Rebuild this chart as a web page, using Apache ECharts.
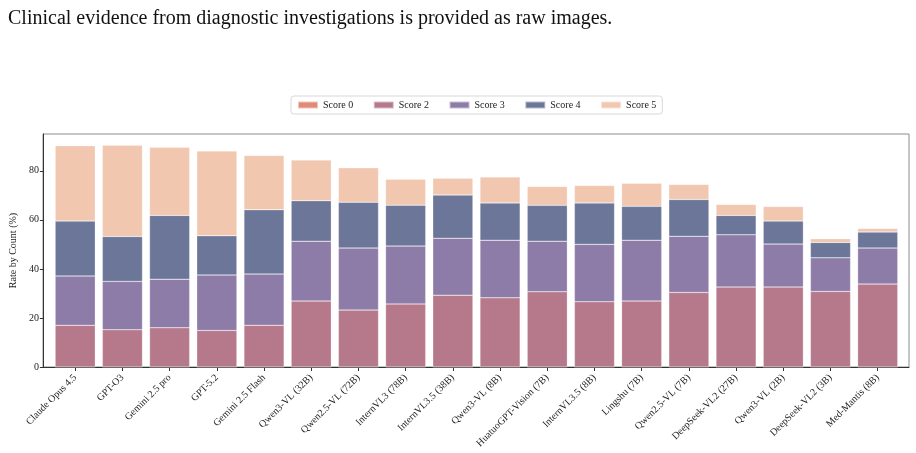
<!DOCTYPE html>
<html>
<head>
<meta charset="utf-8">
<script src="https://cdn.jsdelivr.net/npm/echarts@6/dist/echarts.min.js"></script>
<style>
  html, body { margin: 0; padding: 0; background: #fff; }
  #chart { width: 916px; height: 453px; }
</style>
</head>
<body>
<div id="chart"></div>
<script>
  // models along the x axis
  const models = [
    'Claude Opus 4.5', 'GPT-O3', 'Gemini 2.5 pro', 'GPT-5.2', 'Gemini 2.5 Flash',
    'Qwen3-VL (32B)', 'Qwen2.5-VL (72B)', 'InternVL3 (78B)', 'InternVL3.5 (38B)',
    'Qwen3-VL (8B)', 'HuatuoGPT-Vision (7B)', 'InternVL3.5 (8B)', 'Lingshu (7B)',
    'Qwen2.5-VL (7B)', 'DeepSeek-VL2 (27B)', 'Qwen3-VL (2B)', 'DeepSeek-VL2 (3B)',
    'Med-Mantis (8B)'
  ]
  // rate by count (%) per score, stacked
  const score0 = [0, 0, 0, 0, 0, 0, 0, 0, 0, 0, 0, 0, 0, 0, 0, 0, 0, 0]
  const score2 = [17.0, 15.2, 16.0, 14.9, 17.0, 26.9, 23.2, 25.7, 29.3, 28.2, 30.7, 26.6, 26.9, 30.4, 32.6, 32.6, 30.8, 33.8]
  const score3 = [20.1, 19.7, 19.8, 22.6, 20.9, 24.4, 25.3, 23.6, 23.2, 23.5, 20.6, 23.4, 24.8, 22.9, 21.3, 17.5, 13.7, 14.7]
  const score4 = [22.4, 18.3, 26.0, 16.0, 26.2, 16.5, 18.7, 16.7, 17.6, 15.2, 14.6, 16.9, 13.8, 15.0, 7.9, 9.4, 6.3, 6.5]
  const score5 = [30.7, 37.2, 27.8, 34.6, 22.1, 16.6, 14.0, 10.6, 6.9, 10.6, 7.7, 7.1, 9.4, 6.1, 4.5, 5.9, 1.5, 1.5]
  const scoreNames = ['Score 0', 'Score 2', 'Score 3', 'Score 4', 'Score 5']
  const colors = ['#e08a77', '#b6798b', '#8e7ca8', '#6c7699', '#f1c7b0']

  const serif = 'Liberation Serif'
  const chart = echarts.init(document.getElementById('chart'))

  const series = [score0, score2, score3, score4, score5].map((d, i) => ({
    name: scoreNames[i],
    type: 'bar',
    stack: 'total',
    xAxisIndex: 1,
    yAxisIndex: 1,
    barWidth: '85%',
    data: d,
    itemStyle: {
      color: colors[i],
      borderColor: 'rgba(255,255,255,0.5)',
      borderWidth: 0.5
    }
  }))

  chart.setOption({
    animation: false,
    title: {
      text: 'Clinical evidence from diagnostic investigations is provided as raw images.',
      left: 3,
      top: 4,
      textStyle: {fontFamily: serif, fontSize: 20, fontWeight: 'normal', color: '#111'}
    },
    legend: {
      data: scoreNames,
      left: 291,
      top: 96,
      itemWidth: 20,
      itemHeight: 7,
      itemGap: 19.5,
      padding: [4, 6],
      borderColor: '#d8d8d8',
      borderWidth: 1,
      borderRadius: 3,
      icon: 'rect',
      textStyle: {fontFamily: serif, fontSize: 10, color: '#222'}
    },
    grid: [
      // frame
      {left: 43, right: 7, top: 134, bottom: 86, show: true, borderColor: '#8c8c8c', borderWidth: 1},
      // data area, inset so the bars sit off the frame
      {left: 50.7, right: 14.7, top: 134, bottom: 86}
    ],
    xAxis: [
      {
        type: 'category', gridIndex: 0, data: [''],
        axisLine: {show: true, lineStyle: {color: '#333', width: 1}},
        axisTick: {show: false}, axisLabel: {show: false}
      },
      {
        type: 'category', gridIndex: 1, data: models,
        axisLine: {show: false},
        axisTick: {show: true, alignWithLabel: true, length: 4, lineStyle: {color: '#333'}},
        axisLabel: {
          interval: 0, rotate: 45, margin: 9,
          fontFamily: serif, fontSize: 10, color: '#222'
        }
      }
    ],
    yAxis: [
      {
        type: 'value', gridIndex: 0, min: 0, max: 95,
        axisLine: {show: true, lineStyle: {color: '#333', width: 1}},
        axisTick: {show: false}, axisLabel: {show: false}, splitLine: {show: false}
      },
      {
        type: 'value', gridIndex: 1, min: 0, max: 95, interval: 20,
        offset: 7.7,
        name: 'Rate by Count (%)',
        nameLocation: 'middle',
        nameGap: 19,
        nameTextStyle: {fontFamily: serif, fontSize: 10, color: '#222'},
        axisLine: {show: false},
        axisTick: {show: true, length: 4, lineStyle: {color: '#333'}},
        axisLabel: {fontFamily: serif, fontSize: 10, color: '#222', margin: 5, showMaxLabel: false},
        splitLine: {show: false}
      }
    ],
    series: series
  })
</script>
</body>
</html>
